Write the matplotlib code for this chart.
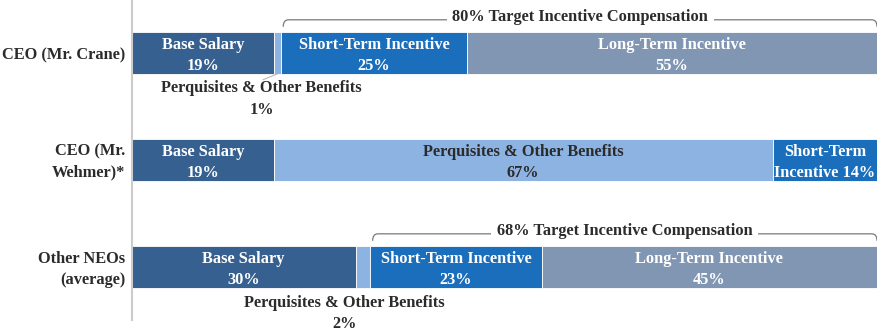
import matplotlib.pyplot as plt
from matplotlib.path import Path
from matplotlib.patches import PathPatch

plt.rcParams["font.family"] = ["Liberation Serif", "DejaVu Serif"]
plt.rcParams["font.weight"] = "bold"

# Données
lignes = ["CEO (Mr. Crane)", "CEO (Mr.\nWehmer)*", "Other NEOs\n(average)"]
base = [19, 19, 30]
perqs = [1, 67, 2]
court_terme = [25, 14, 23]
long_terme = [55, 0, 45]
cible = [80, 0, 68]

COUL_BASE = "#36608F"
COUL_PERQ = "#8DB3E2"
COUL_CT = "#1B6EBB"
COUL_LT = "#8196B3"

fig = plt.figure(figsize=(8.77, 3.31), dpi=100)
ax = fig.add_axes([132 / 877, 0, 1 - 132 / 877, 1])
ax.set_xlim(0, 100)
ax.set_ylim(2.598, -0.495)

h = 0.39
y = list(range(len(lignes)))
g1 = base
g2 = [b + p for b, p in zip(base, perqs)]
g3 = [a + c for a, c in zip(g2, court_terme)]
ax.barh(y, base, height=h, color=COUL_BASE, edgecolor="white", linewidth=0.6)
ax.barh(y, perqs, left=g1, height=h, color=COUL_PERQ, edgecolor="white", linewidth=0.6)
ax.barh(y, court_terme, left=g2, height=h, color=COUL_CT, edgecolor="white", linewidth=0.6)
ax.barh(y, long_terme, left=g3, height=h, color=COUL_LT, edgecolor="white", linewidth=0.6)

fs = 11.8
ls = 1.42
# Textes dans les barres
for i in y:
    ax.text(base[i] / 2, i + 0.02, "Base Salary\n%d%%" % base[i], ha="center", va="center",
            color="white", fontsize=fs, linespacing=ls)
    if long_terme[i] > 0:
        ax.text(g2[i] + court_terme[i] / 2, i + 0.02, "Short-Term Incentive\n%d%%" % court_terme[i],
                ha="center", va="center", color="white", fontsize=fs, linespacing=ls)
        ax.text(g3[i] + long_terme[i] / 2, i + 0.02, "Long-Term Incentive\n%d%%" % long_terme[i],
                ha="center", va="center", color="white", fontsize=fs, linespacing=ls)
    else:
        ax.text(g2[i] + court_terme[i] / 2, i + 0.02, "Short-Term\nIncentive %d%%" % court_terme[i],
                ha="center", va="center", color="white", fontsize=fs, linespacing=ls)

# Avantages : dans la barre si assez large, sinon en dessous
for i in y:
    if perqs[i] > 10:
        ax.text(g1[i] + perqs[i] / 2, i + 0.02, "Perquisites & Other Benefits\n%d%%" % perqs[i],
                ha="center", va="center", color="#2b2b2b", fontsize=fs, linespacing=ls)
    else:
        xc = 17.4 if i == 0 else 28.5
        ax.text(xc, i + 0.43, "Perquisites & Other Benefits\n%d%%" % perqs[i],
                ha="center", va="center", color="#2b2b2b", fontsize=fs, linespacing=ls)
ax.plot([g1[0] + 0.5, 17.6], [0 + h / 2, 0.25], color="#b0b0b0", lw=0.7)

# Accolades de rémunération incitative cible
for i in y:
    if cible[i] == 0:
        continue
    x0 = g2[i] + 0.3
    x1 = 100
    yh = i - 0.31
    yb = i - 0.245
    r = 0.7
    sommets = [(x0, yb), (x0, yh), (x0 + r, yh), (x1 - r, yh), (x1, yh), (x1, yb)]
    codes = [Path.MOVETO, Path.CURVE3, Path.CURVE3, Path.LINETO, Path.CURVE3, Path.CURVE3]
    ax.add_patch(PathPatch(Path(sommets, codes), facecolor="none", edgecolor="#7a7a7a",
                           lw=0.9, clip_on=False))
    ax.text((x0 + x1) / 2, yh - 0.03, "%d%% Target Incentive Compensation" % cible[i],
            ha="center", va="center", color="#2b2b2b", fontsize=fs,
            bbox=dict(facecolor="white", edgecolor="none", pad=4))

# Libellés des lignes
for i, lab in enumerate(lignes):
    ax.text(-0.9, i + 0.02, lab, ha="right", va="center", fontsize=fs, color="#2b2b2b",
            linespacing=ls, clip_on=False)

for s in ["top", "right", "bottom"]:
    ax.spines[s].set_visible(False)
ax.spines["left"].set_color("#cccccc")
ax.spines["left"].set_linewidth(1.5)
ax.spines["left"].set_bounds(-0.495, 2.495)
ax.set_xticks([])
ax.set_yticks([])

fig.savefig("out.png", dpi=100)
